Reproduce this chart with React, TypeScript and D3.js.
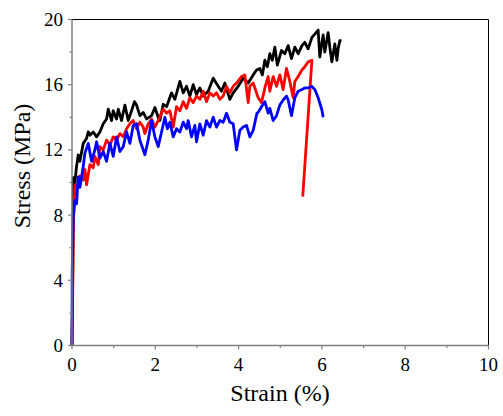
import React from "react";
import * as d3 from "d3";

const blackStrain = [0, 0.024, 0.03, 0.07, 0.11, 0.15, 0.19, 0.27, 0.35, 0.39, 0.43, 0.51, 0.59, 0.67, 0.75, 0.83, 0.87, 0.95, 0.99, 1.07, 1.11, 1.19, 1.27, 1.35, 1.43, 1.5, 1.55, 1.63, 1.71, 1.79, 1.91, 1.99, 2.07, 2.11, 2.19, 2.27, 2.39, 2.47, 2.59, 2.67, 2.75, 2.83, 2.91, 2.99, 3.07, 3.15, 3.27, 3.39, 3.51, 3.59, 3.67, 3.79, 3.87, 3.99, 4.11, 4.23, 4.35, 4.43, 4.51, 4.57, 4.63, 4.69, 4.75, 4.81, 4.87, 4.93, 5.03, 5.11, 5.19, 5.27, 5.35, 5.43, 5.52, 5.59, 5.67, 5.76, 5.83, 5.91, 5.95, 6.03, 6.07, 6.15, 6.19, 6.24, 6.31, 6.36, 6.39, 6.43, 6.47];
const blackStress = [0, 6, 10.3, 10.0, 11.0, 11.7, 11.3, 12.4, 12.7, 13.1, 12.9, 13.1, 12.8, 13.1, 13.6, 13.9, 14.5, 13.8, 14.4, 13.9, 14.5, 13.8, 14.75, 13.8, 14.4, 14.96, 14.75, 14.1, 14.3, 13.9, 14.1, 14.6, 14.0, 13.8, 14.8, 14.65, 15.5, 15.1, 16.2, 15.5, 15.9, 15.3, 16.0, 15.4, 15.8, 15.3, 15.6, 16.4, 15.9, 15.6, 16.1, 15.1, 15.5, 15.9, 16.4, 16.1, 16.6, 16.9, 17.0, 16.6, 17.5, 17.1, 17.9, 17.5, 18.3, 17.2, 18.1, 17.9, 18.4, 17.6, 18.3, 17.9, 18.4, 18.6, 18.2, 18.9, 19.1, 19.35, 17.7, 19.05, 18.0, 19.2, 18.3, 17.4, 18.5, 17.5, 18.2, 18.7, 18.7];

const redStrain = [0, 0.024, 0.03, 0.055, 0.07, 0.11, 0.19, 0.27, 0.31, 0.35, 0.43, 0.51, 0.55, 0.63, 0.67, 0.75, 0.83, 0.91, 0.99, 1.07, 1.15, 1.23, 1.31, 1.39, 1.47, 1.55, 1.63, 1.71, 1.75, 1.83, 1.91, 1.99, 2.07, 2.19, 2.27, 2.35, 2.43, 2.51, 2.59, 2.67, 2.75, 2.83, 2.91, 2.99, 3.07, 3.15, 3.23, 3.31, 3.39, 3.47, 3.55, 3.63, 3.71, 3.79, 3.87, 3.95, 4.07, 4.15, 4.23, 4.27, 4.35, 4.47, 4.55, 4.63, 4.71, 4.75, 4.83, 4.91, 4.99, 5.07, 5.15, 5.23, 5.31, 5.35, 5.43, 5.52, 5.59, 5.67, 5.76, 5.54];
const redStress = [0, 5, 7.5, 8.7, 9.85, 9.65, 10.4, 10.15, 10.8, 9.85, 11.1, 10.9, 11.6, 11.1, 12.2, 12.0, 12.6, 12.3, 12.8, 12.6, 13.0, 12.8, 13.3, 13.6, 13.8, 13.3, 13.7, 13.4, 13.0, 13.6, 13.9, 13.4, 13.8, 14.5, 14.25, 14.4, 13.4, 14.65, 14.4, 14.96, 14.55, 15.2, 14.9, 15.3, 15.1, 15.6, 14.96, 15.5, 15.3, 15.5, 15.1, 15.3, 15.9, 15.5, 15.9, 16.1, 16.5, 16.6, 14.9, 15.9, 16.1, 15.2, 14.9, 15.8, 16.5, 15.6, 16.5, 15.9, 16.6, 15.7, 17.0, 16.2, 15.2, 16.2, 16.5, 16.9, 17.1, 17.4, 17.5, 9.13];

const blueStrain = [0, 0.005, 0.03, 0.07, 0.11, 0.15, 0.19, 0.27, 0.31, 0.35, 0.39, 0.47, 0.55, 0.59, 0.67, 0.75, 0.83, 0.91, 0.99, 1.07, 1.15, 1.23, 1.31, 1.39, 1.47, 1.55, 1.63, 1.75, 1.83, 1.91, 1.99, 2.07, 2.15, 2.23, 2.29, 2.35, 2.43, 2.51, 2.59, 2.67, 2.75, 2.79, 2.87, 2.95, 2.99, 3.07, 3.15, 3.23, 3.31, 3.39, 3.47, 3.55, 3.63, 3.71, 3.79, 3.87, 3.95, 4.03, 4.11, 4.19, 4.27, 4.35, 4.44, 4.47, 4.55, 4.63, 4.71, 4.75, 4.83, 4.91, 4.99, 5.07, 5.15, 5.19, 5.27, 5.35, 5.43, 5.52, 5.59, 5.67, 5.76, 5.83, 5.91, 6.0, 6.03];
const blueStress = [0, 4.6, 7.9, 8.9, 8.7, 10.35, 9.7, 11.0, 11.8, 12.1, 12.4, 11.3, 12.0, 12.5, 11.5, 11.9, 11.3, 12.4, 11.6, 12.8, 11.9, 12.2, 13.1, 12.4, 13.5, 13.6, 12.6, 11.7, 12.6, 13.8, 12.8, 12.2, 13.1, 14.0, 13.3, 13.7, 12.8, 13.3, 13.1, 13.7, 13.3, 13.8, 12.8, 13.5, 12.5, 13.6, 12.9, 13.8, 13.4, 14.0, 13.4, 13.8, 13.7, 14.25, 13.7, 13.6, 12.0, 13.2, 13.4, 13.5, 12.8, 13.2, 14.25, 14.3, 14.65, 14.96, 14.25, 14.55, 13.8, 14.1, 14.75, 15.06, 15.3, 15.06, 14.1, 15.2, 15.6, 15.7, 15.8, 15.8, 15.9, 15.7, 15.2, 14.45, 14.0];

const xMajorTicks = [0, 2, 4, 6, 8, 10];
const xMinorTicks = [1, 3, 5, 7, 9];
const yMajorTicks = [0, 4, 8, 12, 16, 20];
const yMinorTicks = [2, 6, 10, 14, 18];

const series = [
  { name: "black", color: "#000000", xs: blackStrain, ys: blackStress },
  { name: "red", color: "#ff0000", xs: redStrain, ys: redStress },
  { name: "blue", color: "#0000ff", xs: blueStrain, ys: blueStress },
];

const tickStyle: React.CSSProperties = { fontFamily: "'Times New Roman'", fontSize: "19px" };
const titleStyle: React.CSSProperties = { fontFamily: "'Times New Roman'", fontSize: "24px" };

export default function App() {
  const W = 503, H = 416;
  const left = 72, right = 488.5, top = 19.5, bottom = 345.5;
  const x = d3.scaleLinear().domain([0, 10]).range([left, right]);
  const y = d3.scaleLinear().domain([0, 20]).range([bottom, top]);
  const axisGray = "#7f7f7f";
  const line = d3.line<[number, number]>().x((d) => x(d[0])).y((d) => y(d[1]));

  return (
    <svg width={W} height={H} style={{ position: "absolute", left: 0, top: 0 }}>
      <rect width={W} height={H} fill="#fff" />
      <line x1={left} x2={right} y1={top} y2={top} stroke="#000" strokeWidth={1} />
      <line x1={right} x2={right} y1={top} y2={bottom} stroke="#000" strokeWidth={1} />
      {series.map((s) => {
        const pts: [number, number][] = s.xs.map((v, i) => [v, s.ys[i]]);
        return (
          <path key={s.name} d={line(pts) || ""} fill="none" stroke={s.color} strokeWidth={2.8} strokeLinejoin="round" />
        );
      })}
      <line x1={left} x2={left} y1={top} y2={bottom + 0.75} stroke={axisGray} strokeWidth={1.5} />
      <line x1={left - 0.75} x2={right} y1={bottom} y2={bottom} stroke={axisGray} strokeWidth={1.5} />
      {xMajorTicks.map((t) => (
        <line key={"xm" + t} x1={x(t)} x2={x(t)} y1={bottom} y2={bottom + 4} stroke={axisGray} strokeWidth={1.2} />
      ))}
      {xMinorTicks.map((t) => (
        <line key={"xn" + t} x1={x(t)} x2={x(t)} y1={bottom} y2={bottom + 2.5} stroke={axisGray} strokeWidth={1.2} />
      ))}
      {yMajorTicks.map((t) => (
        <line key={"ym" + t} x1={left - 4} x2={left} y1={y(t)} y2={y(t)} stroke={axisGray} strokeWidth={1.2} />
      ))}
      {yMinorTicks.map((t) => (
        <line key={"yn" + t} x1={left - 2.5} x2={left} y1={y(t)} y2={y(t)} stroke={axisGray} strokeWidth={1.2} />
      ))}
      {xMajorTicks.map((t) => (
        <text key={"xl" + t} x={x(t)} y={371} textAnchor="middle" fill="#000" style={tickStyle}>{String(t)}</text>
      ))}
      {yMajorTicks.map((t) => (
        <text key={"yl" + t} x={63} y={y(t) + 6.5} textAnchor="end" fill="#000" style={tickStyle}>{String(t)}</text>
      ))}
      <text x={280} y={401} textAnchor="middle" fill="#000" style={titleStyle}>Strain (%)</text>
      <text transform="translate(30,166) rotate(-90)" textAnchor="middle" fill="#000" style={titleStyle}>Stress (MPa)</text>
    </svg>
  );
}
